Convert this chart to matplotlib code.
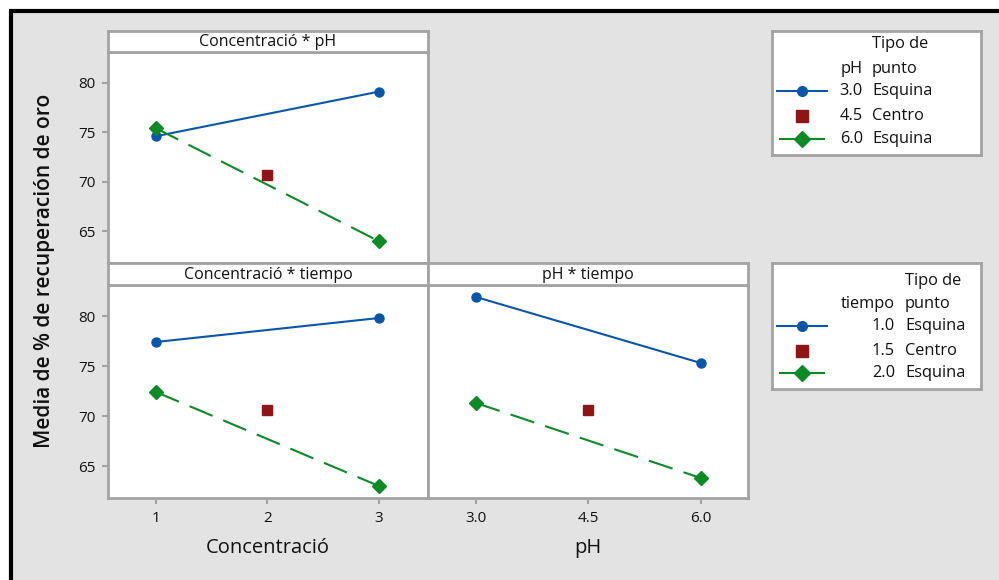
import matplotlib
matplotlib.use("Agg")
import matplotlib.pyplot as plt
from matplotlib.lines import Line2D
from matplotlib.patches import Rectangle

plt.rcParams['font.family'] = ['Open Sans', 'DejaVu Sans']

# Factor levels
conc_levels = [1, 3]
conc_center = 2
ph_levels = [3.0, 6.0]
ph_center = 4.5
conc_ticks = [1, 2, 3]
conc_ticklabels = ["1", "2", "3"]
ph_ticks = [3.0, 4.5, 6.0]
ph_ticklabels = ["3.0", "4.5", "6.0"]
y_ticks = [65, 70, 75, 80]

# Mean % gold recovery
conc_ph_low = [74.6, 79.1]      # pH 3.0
conc_ph_high = [75.4, 64.0]     # pH 6.0
conc_ph_center = 70.7           # pH 4.5 (centro)
conc_t_low = [77.4, 79.8]       # tiempo 1.0
conc_t_high = [72.4, 63.0]      # tiempo 2.0
conc_t_center = 70.6            # tiempo 1.5 (centro)
ph_t_low = [81.9, 75.3]         # tiempo 1.0
ph_t_high = [71.3, 63.8]        # tiempo 2.0
ph_t_center = 70.6              # tiempo 1.5 (centro)

titles = ["Concentració * pH", "Concentració * tiempo", "pH * tiempo"]

BLUE = "#0a56aa"
RED = "#8e1416"
GREEN = "#0b8a25"
BG = "#e3e3e3"
SPINE = "#a3a3a3"
TXT = "#111111"

W, H = 999, 580
fig = plt.figure(figsize=(W / 100, H / 100), dpi=100)
fig.patch.set_facecolor("white")

# gray canvas with black frame on top/left
fig.patches.append(Rectangle((10.5 / W, 0), 1, 1 - 10.5 / H, transform=fig.transFigure,
                             facecolor=BG, edgecolor="none", zorder=-10))
fig.add_artist(Line2D([10.5 / W, 10.5 / W], [0, 1 - 10.5 / H], transform=fig.transFigure,
                      color="black", lw=3, solid_capstyle="butt", zorder=-5))
fig.add_artist(Line2D([9 / W, 1], [1 - 10.5 / H, 1 - 10.5 / H], transform=fig.transFigure,
                      color="black", lw=3, solid_capstyle="butt", zorder=-5))


def px_axes(x0, y0, x1, y1, **kw):
    return fig.add_axes([x0 / W, 1 - y1 / H, (x1 - x0) / W, (y1 - y0) / H], **kw)


YLIM = (61.8, 83.1)


def panel(x0, y0, x1, y1, strip_top, title, xlim):
    ax = px_axes(x0, y0, x1, y1)
    ax.set_facecolor("white")
    ax.set_xlim(*xlim)
    ax.set_ylim(*YLIM)
    for s in ax.spines.values():
        s.set_color(SPINE)
        s.set_linewidth(2)
    ax.tick_params(colors=SPINE, labelcolor=TXT, labelsize=11, length=4, width=1.5, pad=5)
    st = px_axes(x0, strip_top, x1, y0)
    st.set_facecolor("white")
    st.set_xticks([]); st.set_yticks([])
    for s in st.spines.values():
        s.set_color(SPINE)
        s.set_linewidth(2)
    st.text(0.5, 0.47, title, ha="center", va="center", fontsize=11.5, color=TXT,
            transform=st.transAxes)
    return ax


def draw(ax, xs, low, high, xc, center):
    ax.plot(xs, low, color=BLUE, lw=1.5, marker="o", ms=6.5, zorder=3)
    ax.plot(xs, high, color=GREEN, lw=1.5, ls=(0, (12, 5.5)), marker="D", ms=7.5, zorder=3)
    ax.plot([xc], [center], ls="none", color=RED, marker="s", ms=7, zorder=3)


CONC_LIM = (0.57, 3.44)
PH_LIM = (2.36, 6.63)

ax1 = panel(108, 52, 428, 263, 31, titles[0], CONC_LIM)
draw(ax1, conc_levels, conc_ph_low, conc_ph_high, conc_center, conc_ph_center)
ax1.set_xticks([])
ax1.set_yticks(y_ticks)

ax2 = panel(108, 285, 428, 498, 263, titles[1], CONC_LIM)
draw(ax2, conc_levels, conc_t_low, conc_t_high, conc_center, conc_t_center)
ax2.set_xticks(conc_ticks, conc_ticklabels)
ax2.set_yticks(y_ticks)
ax2.set_xlabel("Concentració", fontsize=14.5, color=TXT, labelpad=9)

ax3 = panel(428, 285, 748, 498, 263, titles[2], PH_LIM)
draw(ax3, ph_levels, ph_t_low, ph_t_high, ph_center, ph_t_center)
ax3.set_xticks(ph_ticks, ph_ticklabels)
ax3.set_yticks([])
ax3.set_xlabel("pH", fontsize=14.5, color=TXT, labelpad=9)

fig.text(45 / W, 1 - 271 / H, "Media de % de recuperación de oro", rotation=90,
         ha="center", va="center", fontsize=15, fontweight="semibold", color=TXT)


def legend_box(x0, y0, x1, y1, factor, values, kinds, val_right, lab_left, rows, head_rows):
    lg = px_axes(x0, y0, x1, y1)
    lg.set_xlim(x0, x1)
    lg.set_ylim(y1, y0)
    lg.set_facecolor("white")
    lg.set_xticks([]); lg.set_yticks([])
    for s in lg.spines.values():
        s.set_color(SPINE)
        s.set_linewidth(2)
    fs = 11.8
    lg.text(lab_left, head_rows[0], "Tipo de", ha="left", va="center", fontsize=fs, color=TXT)
    lg.text(lab_left, head_rows[1], "punto", ha="left", va="center", fontsize=fs, color=TXT)
    lg.text(val_right, head_rows[1], factor, ha="right", va="center", fontsize=fs, color=TXT)
    mid = x0 + 30
    lg.add_line(Line2D([x0 + 5, mid, x0 + 55], [rows[0]] * 3, color=BLUE, lw=1.5,
                       marker="o", ms=7, markevery=[1]))
    lg.add_line(Line2D([mid], [rows[1]], color=RED, ls="none", marker="s", ms=8))
    lg.add_line(Line2D([x0 + 8, mid, x0 + 52], [rows[2]] * 3, color=GREEN, lw=1.5,
                       marker="D", ms=8.5, markevery=[1]))
    for y, v, k in zip(rows, values, kinds):
        lg.text(val_right, y, v, ha="right", va="center", fontsize=fs, color=TXT)
        lg.text(lab_left, y, k, ha="left", va="center", fontsize=fs, color=TXT)


kinds = ["Esquina", "Centro", "Esquina"]
legend_box(772, 31, 981, 155, "pH", ["3.0", "4.5", "6.0"], kinds,
           863, 872, [91, 116, 139], [44, 69])
legend_box(772, 263, 981, 389, "tiempo", ["1.0", "1.5", "2.0"], kinds,
           895, 905, [326, 351, 373], [281, 304])

fig.savefig("out.png", dpi=100, facecolor=fig.get_facecolor())
